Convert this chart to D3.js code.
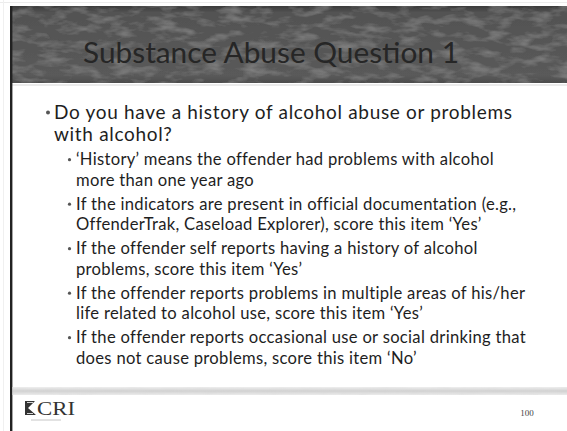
<!DOCTYPE html>
<html><head><meta charset="utf-8">
<script src="https://cdn.jsdelivr.net/npm/d3@7"></script>
<style>html,body{margin:0;padding:0;background:#fff;overflow:hidden}</style>
</head><body>
<script>
const titleText = "Substance Abuse Question 1";
const mainLines = ["Do you have a history of alcohol abuse or problems", "with alcohol?"];
const subBullets = [
  ["\u2018History\u2019 means the offender had problems with alcohol", "more than one year ago"],
  ["If the indicators are present in official documentation (e.g.,", "OffenderTrak, Caseload Explorer), score this item \u2018Yes\u2019"],
  ["If the offender self reports having a history of alcohol", "problems, score this item \u2018Yes\u2019"],
  ["If the offender reports problems in multiple areas of his/her", "life related to alcohol use, score this item \u2018Yes\u2019"],
  ["If the offender reports occasional use or social drinking that", "does not cause problems, score this item \u2018No\u2019"]
];
const logoText = "CRI";
const pageNumber = "100";

const W = 567, H = 431;
const svg = d3.select("body").append("svg").attr("width", W).attr("height", H);
const defs = svg.append("defs");
function noiseFilter(id, freq, alpha, seed){
  const f = defs.append("filter").attr("id",id).attr("x",0).attr("y",0).attr("width","100%").attr("height","100%");
  f.append("feTurbulence").attr("type","fractalNoise").attr("baseFrequency",freq).attr("numOctaves",3).attr("seed",seed).attr("result","t");
  f.append("feColorMatrix").attr("in","t").attr("type","matrix")
   .attr("values",`0 0 0 0 0.6  0 0 0 0 0.6  0 0 0 0 0.6  ${alpha} 0 0 0 ${-alpha*0.45}`).attr("result","c");
  f.append("feComposite").attr("in","c").attr("in2","SourceGraphic").attr("operator","in").attr("result","m");
  f.append("feMerge").call(s=>{s.append("feMergeNode").attr("in","SourceGraphic");s.append("feMergeNode").attr("in","m");});
}
noiseFilter("noise","0.045 0.12",0.55,7);
noiseFilter("noise2","0.05 0.3",0.5,4);

const g1 = defs.append("linearGradient").attr("id","hdr").attr("x1",0).attr("y1",0).attr("x2",0).attr("y2",1);
g1.append("stop").attr("offset","0").attr("stop-color","#3a3a3a");
g1.append("stop").attr("offset","0.08").attr("stop-color","#525252");
g1.append("stop").attr("offset","0.9").attr("stop-color","#5a5a5a");
g1.append("stop").attr("offset","1").attr("stop-color","#4c4c4c");

svg.append("rect").attr("width",W).attr("height",H).attr("fill","#fff");
svg.append("line").attr("x1",0).attr("x2",W).attr("y1",2.5).attr("y2",2.5).attr("stroke","#ececec");
svg.append("line").attr("x1",3.5).attr("x2",3.5).attr("y1",0).attr("y2",H).attr("stroke","#f0f0f0");

// header band
svg.append("rect").attr("x",11).attr("y",6).attr("width",W-11).attr("height",77)
  .attr("fill","url(#hdr)").attr("filter","url(#noise)");
svg.append("line").attr("x1",11).attr("x2",W).attr("y1",85).attr("y2",85).attr("stroke","#e4e4e4").attr("stroke-width",1.5);

// left border
svg.append("rect").attr("x",10).attr("y",6).attr("width",2.4).attr("height",H-6).attr("fill","#222");

const FONT = "Lato, 'Open Sans', sans-serif";
function fitSize(text, fs, target){
  const t = svg.append("text").attr("font-family",FONT).attr("font-size",fs).text(text);
  const w = t.node().getComputedTextLength(); t.remove();
  return fs * target / w;
}
function fitSpacing(text, fs, target){
  const t = svg.append("text").attr("font-family",FONT).attr("font-size",fs).text(text);
  const w = t.node().getComputedTextLength(); t.remove();
  return (target - w) / (text.length - 1);
}

// title
svg.append("text").attr("x",271).attr("y",63).attr("text-anchor","middle")
  .attr("font-family",FONT).attr("font-size",fitSize(titleText,30,376)).attr("fill","#262626").text(titleText);

// main bullet
const mainFs = 19;
const mainLs = fitSpacing(mainLines[0], mainFs, 458);
const mainT = svg.append("text").attr("font-family",FONT).attr("font-size",mainFs)
  .attr("letter-spacing",mainLs).attr("fill","#1e1e1e");
mainT.selectAll("tspan").data(mainLines).join("tspan")
  .attr("x",54).attr("y",(d,i)=>119+i*22).text(d=>d);
svg.append("circle").attr("cx",48).attr("cy",112.5).attr("r",2).attr("fill","#555");

// sub bullets
const subFs = 16.6;
const subLs = fitSpacing(subBullets[0][0], subFs, 417);
const starts = [165, 209.5, 254, 298.5, 343];
const lh = 20.5;
const sg = svg.append("g");
subBullets.forEach((lines,k)=>{
  const y0 = starts[k];
  sg.append("circle").attr("cx",69.5).attr("cy",y0-5.3).attr("r",1.6).attr("fill","#555");
  sg.append("text").attr("font-family",FONT).attr("font-size",subFs).attr("letter-spacing",subLs).attr("fill","#1e1e1e")
    .selectAll("tspan").data(lines).join("tspan")
    .attr("x",76).attr("y",(d,i)=>y0+i*lh).text(d=>d);
});

// bottom band
const g2 = defs.append("linearGradient").attr("id","bot").attr("x1",0).attr("y1",0).attr("x2",0).attr("y2",1);
g2.append("stop").attr("offset","0").attr("stop-color","#ececec");
g2.append("stop").attr("offset","0.5").attr("stop-color","#cacaca");
g2.append("stop").attr("offset","1").attr("stop-color","#e8e8e8");
svg.append("rect").attr("x",12.4).attr("y",387).attr("width",W-12.4).attr("height",8).attr("fill","url(#bot)").attr("filter","url(#noise2)").attr("opacity",0.85);

// logo
const lg = svg.append("g").attr("transform","translate(25,401)");
lg.append("path").attr("d","M0,0 H10 L3,7 L11,14 H0 Z").attr("fill","#333");
lg.append("path").attr("d","M2,1.5 H8 M2,12.5 H8").attr("stroke","#fff").attr("stroke-width",0.8);
lg.append("text").attr("x",12).attr("y",14).attr("font-family","'Liberation Serif', serif").attr("font-size",18)
  .attr("fill","#333").attr("textLength",38).attr("lengthAdjust","spacingAndGlyphs").text(logoText);
lg.append("rect").attr("x",6).attr("y",18).attr("width",30).attr("height",2).attr("fill","#e2e2e2");

svg.append("text").attr("x",527).attr("y",416).attr("text-anchor","middle").attr("font-family","'Liberation Serif', serif")
  .attr("font-size",9).attr("fill","#444").text(pageNumber);
</script>
</body></html>
